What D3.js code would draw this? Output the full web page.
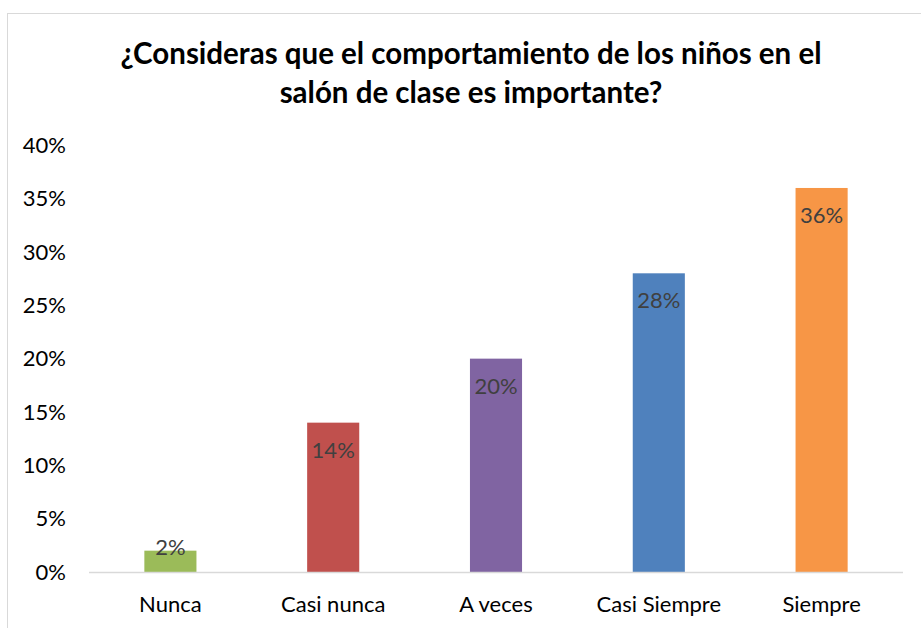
<!DOCTYPE html>
<html><head><meta charset="utf-8">
<script src="https://cdn.jsdelivr.net/npm/d3@7"></script>
<style>body{margin:0;background:#fff;} svg{display:block;}</style>
</head><body>
<script>
const categories = ["Nunca", "Casi nunca", "A veces", "Casi Siempre", "Siempre"];
const values = [0.02, 0.14, 0.20, 0.28, 0.36];
const colors = ["#9BBB59", "#C0504D", "#8064A2", "#4F81BD", "#F79646"];
const yTicks = [0, 0.05, 0.10, 0.15, 0.20, 0.25, 0.30, 0.35, 0.40];
const titleLines = ["¿Consideras que el comportamiento de los niños en el", "salón de clase es importante?"];

const W = 921, H = 628;
const svg = d3.select("body").append("svg").attr("width", W).attr("height", H);
const font = "Lato, 'Open Sans', sans-serif";

svg.append("rect").attr("x", 7.5).attr("y", 13.5).attr("width", W + 10).attr("height", H + 10)
  .attr("fill", "#fff").attr("stroke", "#D9D9D9").attr("stroke-width", 1);

svg.selectAll("text.title").data(titleLines).enter().append("text")
  .attr("class", "title")
  .attr("x", 471).attr("y", (d, i) => 64 + i * 39)
  .attr("text-anchor", "middle")
  .attr("font-family", font).attr("font-weight", "bold").attr("font-size", 29.5)
  .attr("fill", "#000").text(d => d);

const x = d3.scaleBand().domain(categories).range([89, 903]).paddingInner(0.68).paddingOuter(0.34);
const y = d3.scaleLinear().domain([0, 0.40]).range([572, 145.3]);

const yAxis = d3.axisLeft(y).tickValues(yTicks).tickFormat(d3.format(".0%")).tickSize(0).tickPadding(23);
const gy = svg.append("g").attr("transform", "translate(89,0)").call(yAxis);
gy.select(".domain").remove();
gy.selectAll("text").attr("font-family", font).attr("font-size", 22).attr("fill", "#000");

svg.selectAll("rect.bar").data(values).enter().append("rect")
  .attr("class", "bar")
  .attr("x", (d, i) => x(categories[i]))
  .attr("width", x.bandwidth())
  .attr("y", d => y(d))
  .attr("height", d => y(0) - y(d))
  .attr("fill", (d, i) => colors[i]);

svg.append("line").attr("x1", 89).attr("x2", 903).attr("y1", 572.5).attr("y2", 572.5)
  .attr("stroke", "#D9D9D9").attr("stroke-width", 1.5);

const xAxis = d3.axisBottom(x).tickSize(0).tickPadding(24);
const gx = svg.append("g").attr("transform", "translate(0,572)").call(xAxis);
gx.select(".domain").remove();
gx.selectAll("text").attr("font-family", font).attr("font-size", 22).attr("fill", "#000");

svg.selectAll("text.lbl").data(values).enter().append("text")
  .attr("class", "lbl")
  .attr("x", (d, i) => x(categories[i]) + x.bandwidth() / 2)
  .attr("y", d => Math.min(y(d) + 35, y(0) - 17))
  .attr("text-anchor", "middle")
  .attr("font-family", font).attr("font-size", 22).attr("fill", "#404040")
  .text(d => d3.format(".0%")(d));
</script>
</body></html>
